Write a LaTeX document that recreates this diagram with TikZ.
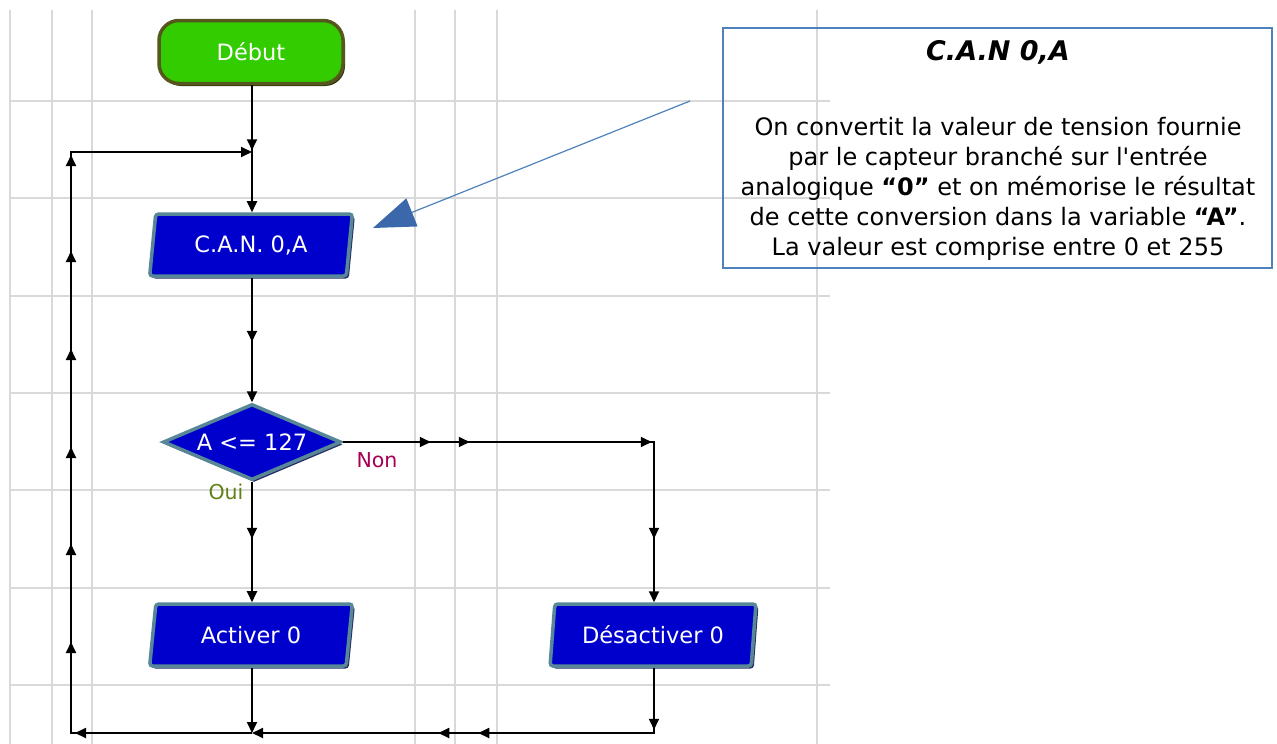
\documentclass[tikz,border=0pt]{standalone}
\usepackage{fontspec}
\setmainfont{DejaVu Sans}[Ligatures=TeXOff]
\usetikzlibrary{shapes.geometric,arrows.meta,decorations.markings,shadows}

\definecolor{gridgray}{RGB}{217,217,217}
\definecolor{startgreen}{RGB}{51,204,0}
\definecolor{startedge}{RGB}{84,88,28}
\definecolor{startshade}{RGB}{52,52,10}
\definecolor{boxblue}{RGB}{0,0,204}
\definecolor{boxedge}{RGB}{88,136,152}
\definecolor{boxshade}{RGB}{40,46,104}
\definecolor{noncol}{RGB}{165,0,85}
\definecolor{ouicol}{RGB}{95,130,20}
\definecolor{noteedge}{RGB}{79,129,189}
\definecolor{notehead}{RGB}{58,104,170}

\newcommand\flowfont{\fontsize{22.5}{26}\selectfont}
\newcommand\labelfont{\fontsize{20.5}{24}\selectfont}

\tikzset{
  gridline/.style={gridgray, line width=1.6pt},
  flow/.style={black, line width=1.8pt},
  midtip/.style={postaction={decorate,decoration={markings,
      mark=at position #1 with {\arrow{Triangle[length=11pt,width=10pt]}}}}},
  endtip/.style={-{Triangle[length=11pt,width=10pt]}},
  startbox/.style={rectangle, rounded corners=20pt, minimum width=184pt,
      minimum height=63pt, fill=startgreen, draw=startedge, line width=3.5pt,
      text=white, font=\flowfont,
      drop shadow={shadow xshift=2pt, shadow yshift=-2.5pt, opacity=1, fill=startshade}},
  iobox/.style={trapezium, trapezium left angle=81, trapezium right angle=99,
      trapezium stretches=true, minimum width=203pt, minimum height=62pt,
      inner sep=2pt, rounded corners=3pt, fill=boxblue, draw=boxedge,
      line width=3.5pt, text=white, font=\flowfont,
      drop shadow={shadow xshift=2.5pt, shadow yshift=-2.5pt, opacity=1, fill=boxshade}},
  testbox/.style={diamond, aspect=2.34, minimum width=178pt, minimum height=76pt,
      inner sep=0pt, fill=boxblue, draw=boxedge, line width=3.5pt, text=white,
      font=\flowfont,
      drop shadow={shadow xshift=2pt, shadow yshift=-2.5pt, opacity=1, fill=boxshade}},
  notebox/.style={draw=noteedge, line width=1.2pt, minimum width=549pt,
      minimum height=240pt, inner sep=0pt},
}

\begin{document}
\begin{tikzpicture}[x=1pt,y=-1pt]
\useasboundingbox (0,0) rectangle (1277,744);

% background grid
\foreach \gy in {101,198,296,393,490,588,685}
  \draw[gridline] (10,\gy) -- (830,\gy);
\foreach \gx in {10,52,92,415,455,497,817}
  \draw[gridline] (\gx,10) -- (\gx,744);

% flowchart blocks
\node[startbox] (debut) at (251,52) {Début};
\node[iobox] (can) at (251,245) {C.A.N. 0,A};
\node[testbox] (test) at (252,442) {A <= 127};
\node[iobox] (act) at (251,635) {Activer 0};
\node[iobox, minimum width=206pt] (desact) at (653,635) {Désactiver 0};

\node[font=\labelfont, text=noncol] (non) at (377,460) {Non};
\node[font=\labelfont, text=ouicol] (oui) at (226,492) {Oui};

% junction points of the wiring
\coordinate (joinTop) at (252,152);
\coordinate (loopTop) at (71,152);
\coordinate (loopBottom) at (71,733);
\coordinate (joinAct) at (252,733);
\coordinate (joinDes) at (654,733);
\coordinate (nonCorner) at (654,442);

% connectors
\draw[flow, midtip=65pt, endtip] (debut.south -| joinTop) -- (can.north -| joinTop);
\draw[flow, midtip=64pt, endtip] (can.south -| joinTop) -- (test.north);
\draw[flow, midtip=57pt, endtip] (test.south) -- (act.north -| joinTop);
\draw[flow, midtip=88pt, midtip=127pt, midtip=309pt, midtip=408pt, endtip]
  (test.east) -- (nonCorner) -- (desact.north -| nonCorner);
\draw[flow, endtip] (act.south -| joinAct) -- (joinAct);
\draw[flow, midtip=62pt, midtip=241pt, midtip=281pt, endtip]
  (desact.south -| joinDes) -- (joinDes) -- (joinAct);
\draw[flow, midtip=177pt, midtip=272pt, midtip=370pt, midtip=467pt,
      midtip=565pt, midtip=663pt, midtip=759pt, endtip]
  (joinAct) -- (loopBottom) -- (loopTop) -- (joinTop);

% comment box
\node[notebox] (note) at (997.5,148) {};
\node[font=\bfseries\itshape\fontsize{27}{30}\selectfont] (notetitle) at (998,52) {C.A.N 0,A};
\node[align=center, font=\fontsize{24}{30}\selectfont, inner sep=0pt] (notebody) at (998,189)
  {On convertit la valeur de tension fournie\\
   par le capteur branché sur l'entrée\\
   analogique \textbf{“0”} et on mémorise le résultat\\
   de cette conversion dans la variable \textbf{“A”}.\\
   La valeur est comprise entre 0 et 255};

\coordinate (notefoot) at (690,101);
\coordinate (notetip) at (373,228);
\draw[noteedge, line width=1.2pt, -{Triangle[length=42pt,width=30pt,color=notehead]}]
  (notefoot) -- (notetip);
\end{tikzpicture}
\end{document}
